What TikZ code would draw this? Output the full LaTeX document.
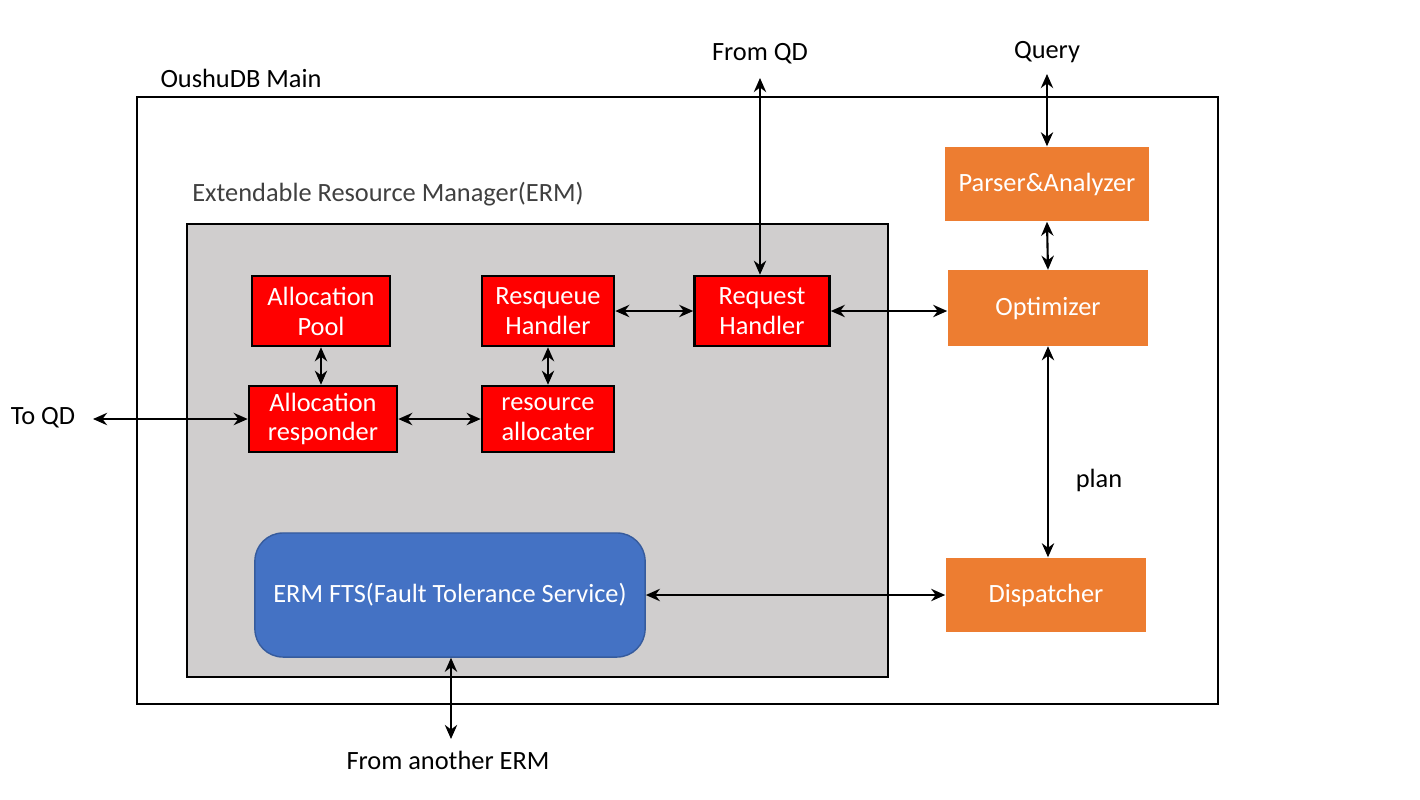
\documentclass[tikz,border=0pt]{standalone}
\usepackage{fontspec}
\setmainfont{Carlito}
\usetikzlibrary{arrows.meta}
\definecolor{ermgray}{HTML}{D0CECE}
\definecolor{ftsblue}{HTML}{4472C4}
\definecolor{qdorange}{HTML}{ED7D31}
\definecolor{labgray}{HTML}{404040}
\tikzset{
  redbox/.style={rectangle, fill=red, draw=black, line width=0.7pt, text=white, align=center, inner sep=0pt},
  orbox/.style={rectangle, fill=qdorange, text=white, align=center, inner sep=0pt},
  lab/.style={inner sep=1pt},
  link/.style={{Stealth[length=4pt,width=3.5pt]}-{Stealth[length=4pt,width=3.5pt]}, line width=0.6pt}
}
\begin{document}
\begin{tikzpicture}[x={(0.01cm,0)}, y={(0,-0.01cm)}, font=\fontsize{7.5}{8.5}\selectfont]
\useasboundingbox (0,0) rectangle (1420,799);

% frames
\draw[line width=0.8pt] (137,97) rectangle (1218,704);
\node (main) [lab] at (241,78) {OushuDB Main};
\draw[fill=ermgray, line width=0.8pt] (187,224) rectangle (888,677);
\node (erm) [lab, text=labgray] at (388,194) {Extendable Resource Manager(ERM)};

% ERM parts
\node (pool) [redbox, minimum width=1.38cm, minimum height=0.7cm] at (321,311) {Allocation\\Pool};
\node (resq) [redbox, minimum width=1.32cm, minimum height=0.7cm] at (548,311) {Resqueue\\Handler};
\node (req) [redbox, minimum width=1.35cm, minimum height=0.7cm] at (762,311) {Request\\Handler};
\node (resp) [redbox, minimum width=1.48cm, minimum height=0.66cm] at (323,419) {Allocation\\responder};
\node (alloc) [redbox, minimum width=1.32cm, minimum height=0.66cm] at (548,419) {resource\\allocater};
\node (fts) [rectangle, rounded corners=8pt, fill=ftsblue, draw=ftsblue!80!black, line width=0.4pt, text=white,
  minimum width=3.9cm, minimum height=1.24cm] at (450,595) {ERM FTS(Fault Tolerance Service)};

% query path
\node (parser) [orbox, minimum width=2.03cm, minimum height=0.74cm] at (1047,184) {Parser\&Analyzer};
\node (opt) [orbox, minimum width=2cm, minimum height=0.75cm] at (1048,308) {Optimizer};
\node (disp) [orbox, minimum width=2cm, minimum height=0.74cm] at (1046,595) {Dispatcher};

% outside labels
\node (fromqd) [lab] at (760,54) {From QD};
\node (query) [lab] at (1047,52) {Query};
\node (toqd) [lab] at (43,418) {To QD};
\node (plan) [lab] at (1099,480) {plan};
\node (another) [lab] at (448,760) {From another ERM};
\coordinate (fq) at (760,78);
\coordinate (qy) at (1047,74);
\coordinate (tq) at (93,419);
\coordinate (fa) at (451,739);

% connectors
\draw[link] (fq) -- (fq |- req.north);
\draw[link] (qy) -- (parser.north);
\draw[link] (parser.south) -- (opt.north);
\draw[link] (opt.south) -- (opt.south |- disp.north);
\draw[link] (req.east) -- (req.east -| opt.west);
\draw[link] (resq.east) -- (req.west);
\draw[link] (pool.south) -- (pool.south |- resp.north);
\draw[link] (resq.south) -- (alloc.north);
\draw[link] (resp.east) -- (alloc.west);
\draw[link] (tq) -- (resp.west);
\draw[link] (fts.east) -- (disp.west);
\draw[link] (fa) -- (fa |- fts.south);
\end{tikzpicture}
\end{document}
